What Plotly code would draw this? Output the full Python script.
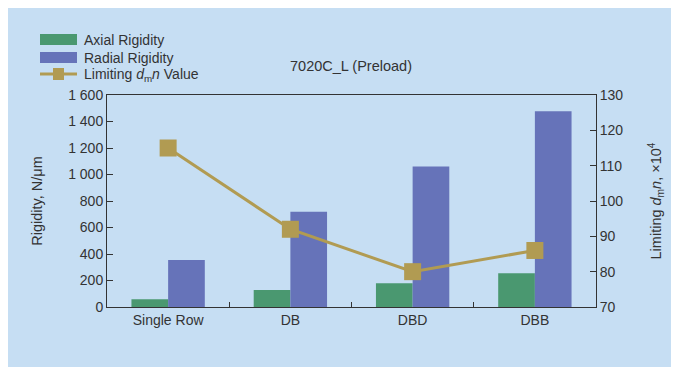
import plotly.graph_objects as go

# data
categories = ['Single Row', 'DB', 'DBD', 'DBB']
axial_rigidity = [58, 128, 180, 255]
radial_rigidity = [355, 718, 1060, 1478]
limiting_dmn = [115, 92, 80, 86]

GREEN = '#4a9870'
BLUE = '#6673b9'
GOLD = '#b19b52'
BG = '#c6def3'
TXT = '#333333'

# the html body has an 8px margin, so the figure is 8px smaller and the
# white strip on top / left of the reference comes for free
OFF = 8
W, H = 679 - OFF, 367 - OFF
# plot area in page pixels
L, R, T, B = 107, 596, 95, 307


def px(x):
    return (x - L) / (R - L)


def py(y):
    return (B - y) / (B - T)


fig = go.Figure()
fig.add_trace(go.Bar(x=categories, y=axial_rigidity, name='Axial Rigidity',
                     marker=dict(color=GREEN, line=dict(width=0)), showlegend=False))
fig.add_trace(go.Bar(x=categories, y=radial_rigidity, name='Radial Rigidity',
                     marker=dict(color=BLUE, line=dict(width=0)), showlegend=False))
fig.add_trace(go.Scatter(x=categories, y=limiting_dmn, yaxis='y2', mode='lines+markers',
                         name='Limiting dmn Value', showlegend=False,
                         line=dict(color=GOLD, width=3),
                         marker=dict(symbol='square', size=17, color=GOLD)))

# hand-drawn legend (wide swatches like the reference)
shapes = [
    dict(type='rect', xref='paper', yref='paper', x0=px(40), x1=px(77), y0=py(45), y1=py(34),
         fillcolor=GREEN, line=dict(width=0)),
    dict(type='rect', xref='paper', yref='paper', x0=px(40), x1=px(77), y0=py(63), y1=py(52),
         fillcolor=BLUE, line=dict(width=0)),
    dict(type='line', xref='paper', yref='paper', x0=px(40), x1=px(77), y0=py(74), y1=py(74),
         line=dict(color=GOLD, width=3)),
    dict(type='rect', xref='paper', yref='paper', x0=px(53), x1=px(64), y0=py(80), y1=py(68),
         fillcolor=GOLD, line=dict(width=0)),
]

legend_items = ['Axial Rigidity', 'Radial Rigidity', 'Limiting <i>d</i><sub>m</sub><i>n</i> Value']
legend_y = [40, 58, 75]
annotations = [
    dict(text=t, x=px(82), y=py(yy), xref='paper', yref='paper', showarrow=False,
         xanchor='left', yanchor='middle', font=dict(size=14, color=TXT))
    for t, yy in zip(legend_items, legend_y)
]
annotations.append(dict(text='7020C_L (Preload)', x=px(351), y=py(66), xref='paper', yref='paper',
                        showarrow=False, xanchor='center', yanchor='middle',
                        font=dict(size=14.5, color=TXT)))

fig.update_layout(
    width=W, height=H,
    margin=dict(l=L - OFF, r=679 - R, t=T - OFF, b=367 - B),
    paper_bgcolor=BG, plot_bgcolor=BG,
    font=dict(family='Liberation Sans, Arial, sans-serif', size=14, color=TXT),
    separators='. ',
    barmode='group', bargap=0.4, bargroupgap=0,
    shapes=shapes, annotations=annotations,
    xaxis=dict(showline=True, linecolor=TXT, linewidth=1, mirror=True,
               ticks='inside', tickson='boundaries', ticklen=5, tickcolor=TXT,
               showgrid=False, tickfont=dict(size=14)),
    yaxis=dict(range=[0, 1600], dtick=200, tickformat=',d', showline=True, linecolor=TXT,
               ticks='inside', ticklen=6, tickcolor=TXT, showgrid=False, zeroline=False,
               title=dict(text='Rigidity, N/μm', font=dict(size=14.5), standoff=22)),
    yaxis2=dict(range=[70, 130], dtick=10, overlaying='y', side='right', showline=True,
                linecolor=TXT, ticks='inside', ticklen=6, tickcolor=TXT, showgrid=False,
                zeroline=False,
                title=dict(text='Limiting <i>d</i><sub>m</sub><i>n</i>, ×10<sup>4</sup>',
                           font=dict(size=14.5), standoff=28)),
)

fig.write_html('out.html')
